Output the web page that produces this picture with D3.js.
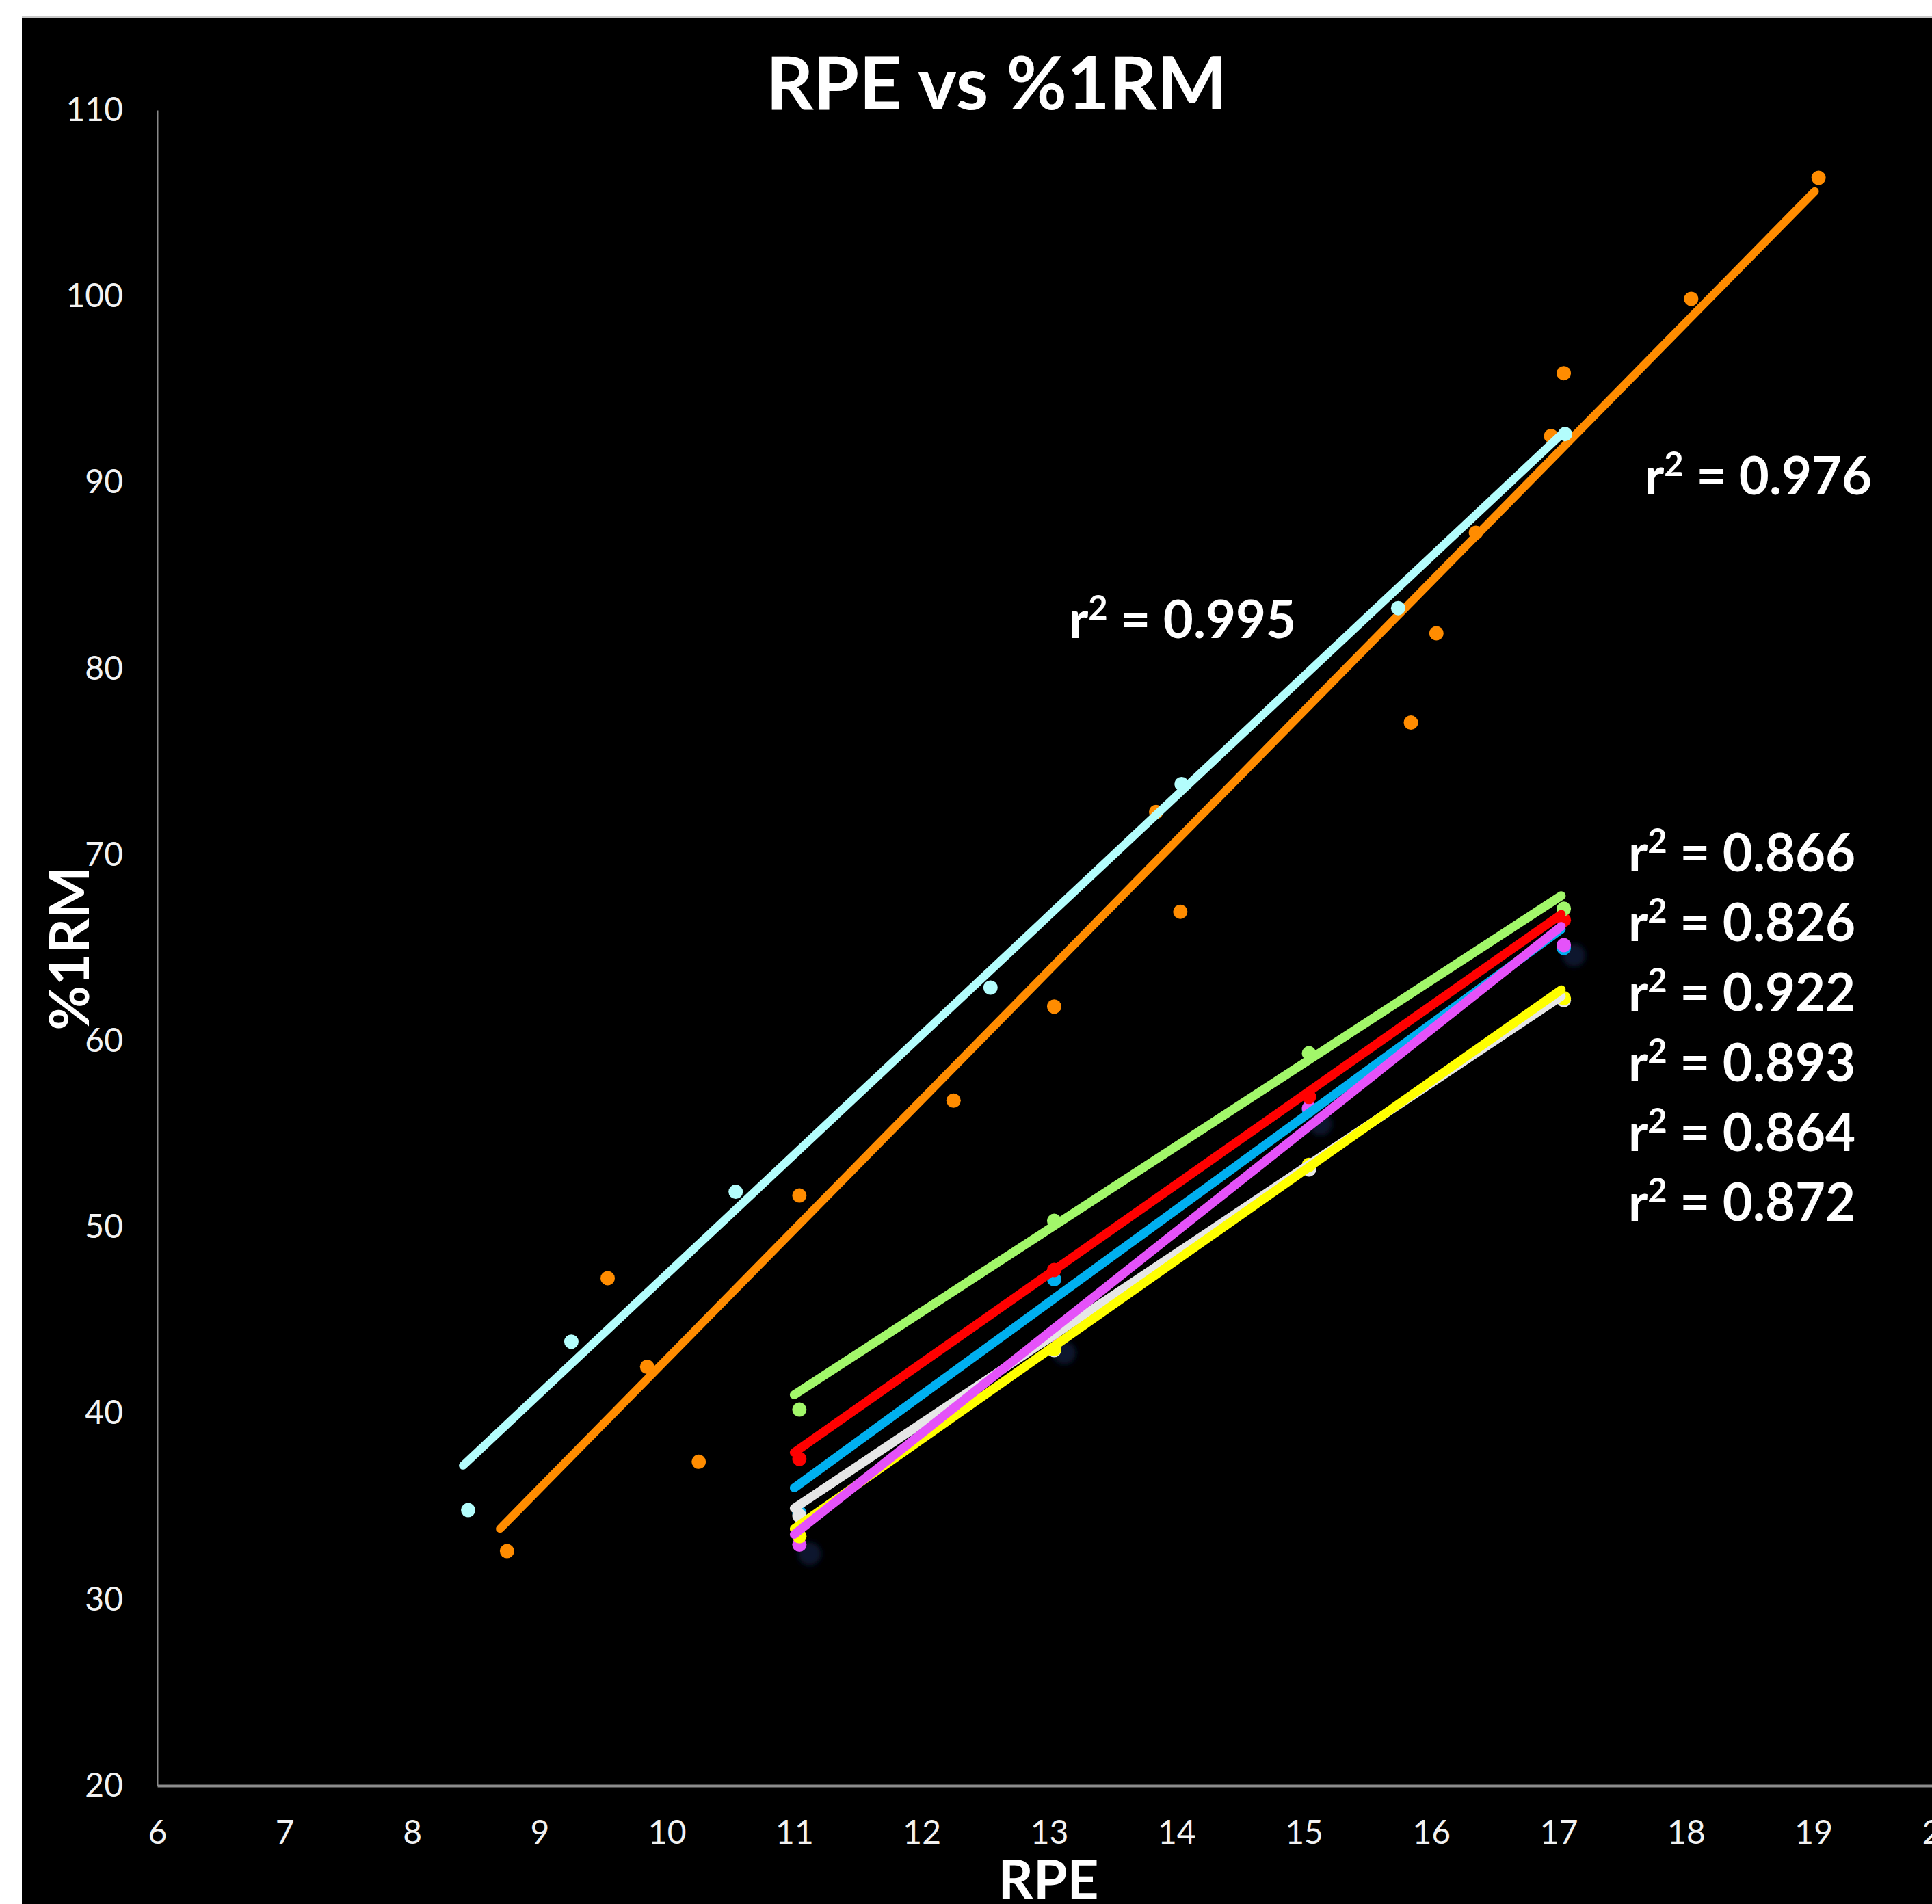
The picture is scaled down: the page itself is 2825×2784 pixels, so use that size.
<!DOCTYPE html>
<html>
<head>
<meta charset="utf-8">
<script src="https://cdn.jsdelivr.net/npm/d3@7"></script>
<style>
  html, body { margin: 0; padding: 0; background: #ffffff; }
  svg { display: block; }
</style>
</head>
<body>
<script>
// ---------------- DATA ----------------
const xTicks = [6, 7, 8, 9, 10, 11, 12, 13, 14, 15, 16, 17, 18, 19, 20];
const yTicks = [20, 30, 40, 50, 60, 70, 80, 90, 100, 110];

// Upper series (cyan, r2 = 0.995)
const cyanX = [8.44, 9.25, 10.54, 12.54, 14.04, 15.74, 17.05];
const cyanY = [34.8, 43.85, 51.9, 62.87, 73.8, 83.25, 92.6];
const cyanTrendX = [8.40, 17.04];
const cyanTrendY = [37.2, 92.7];

// Upper series (orange, r2 = 0.976)
const orangeX = [8.745, 9.535, 9.845, 10.25, 11.04, 12.25, 13.04, 13.84, 14.03, 15.84, 16.04, 16.35, 16.94, 17.04, 18.04, 19.04];
const orangeY = [32.6, 47.26, 42.5, 37.4, 51.7, 56.8, 61.85, 72.3, 66.94, 77.1, 81.9, 87.3, 92.5, 95.87, 99.86, 106.36];
const orangeTrendX = [8.69, 19.01];
const orangeTrendY = [33.8, 105.64];

// Lower group (measured at RPE 11, 13, 15, 17)
const groupX = [11.04, 13.04, 15.04, 17.04];
const groupTrendX = [11.0, 17.02];
const greenY   = [40.2, 50.34, 59.34, 67.1];
const redY     = [37.55, 47.7, 57.0, 66.5];
const blueY    = [34.65, 47.2, 56.3, 65.0];
const whiteY   = [34.5, 43.4, 53.1, 62.2];
const yellowY  = [33.4, 43.45, 53.35, 62.3];
const magentaY = [32.95, 44.2, 56.4, 65.15];
const greenTrendY   = [41.0, 67.8];
const redTrendY     = [37.9, 66.8];
const blueTrendY    = [36.0, 66.0];
const whiteTrendY   = [34.9, 62.4];
const yellowTrendY  = [33.8, 62.75];
const magentaTrendY = [33.5, 66.15];
// faint dark-navy markers
const navyX = [11.12, 13.12, 15.13, 17.12];
const navyY = [32.45, 43.25, 55.55, 64.6];

// r-squared annotations
const r2Upper = ["0.995", "0.976"];
const r2Lower = ["0.866", "0.826", "0.922", "0.893", "0.864", "0.872"];

// ---------------- LAYOUT ----------------
const W = 2825, H = 2784;
const FONT = "Lato, 'Open Sans', 'DejaVu Sans', sans-serif";

const svg = d3.select("body").append("svg")
  .attr("width", W).attr("height", H)
  .attr("viewBox", `0 0 ${W} ${H}`);

// background
svg.append("rect").attr("x", 0).attr("y", 0).attr("width", W).attr("height", H).attr("fill", "#ffffff");
svg.append("rect").attr("x", 32).attr("y", 26).attr("width", W - 32).attr("height", H - 26).attr("fill", "#000000");
svg.append("line").attr("x1", 32).attr("x2", W).attr("y1", 25.5).attr("y2", 25.5)
  .attr("stroke", "#c8c8c8").attr("stroke-width", 3);

const defs = svg.append("defs");
defs.append("filter").attr("id", "blur").attr("x", "-50%").attr("y", "-50%").attr("width", "200%").attr("height", "200%")
  .append("feGaussianBlur").attr("stdDeviation", 4);

const x = d3.scaleLinear().domain([6, 20]).range([230, 2838]);
const y = d3.scaleLinear().domain([20, 110]).range([2611, 161]);

// axes
const yAxis = svg.append("g").attr("transform", `translate(${x(6)},0)`)
  .call(d3.axisLeft(y).tickValues(yTicks).tickSize(0).tickPadding(50));
yAxis.select(".domain").attr("stroke", "#8a8a8a").attr("stroke-width", 2);
yAxis.selectAll("text").attr("fill", "#f2f2f2").attr("font-family", FONT).attr("font-size", 48);

const xAxis = svg.append("g").attr("transform", `translate(0,${y(20)})`)
  .call(d3.axisBottom(x).tickValues(xTicks).tickSize(0).tickPadding(51));
xAxis.select(".domain").attr("stroke", "#8c8c8c").attr("stroke-width", 4);
xAxis.selectAll("text").attr("fill", "#f2f2f2").attr("font-family", FONT).attr("font-size", 48);

// ---------------- MARKS ----------------
const R = 10.5;
function dots(xs, ys, color) {
  svg.append("g").selectAll("circle").data(xs.map((d, i) => [d, ys[i]])).join("circle")
    .attr("cx", d => x(d[0])).attr("cy", d => y(d[1])).attr("r", R).attr("fill", color);
}
function trend(xs, ys, color, w) {
  svg.append("line")
    .attr("x1", x(xs[0])).attr("y1", y(ys[0]))
    .attr("x2", x(xs[1])).attr("y2", y(ys[1]))
    .attr("stroke", color).attr("stroke-width", w).attr("stroke-linecap", "round");
}

const C = {
  cyan: "#b3fdfc", orange: "#ff8c00", green: "#a2f76a", red: "#ff0000",
  blue: "#00b0f0", white: "#e6e6e6", yellow: "#ffff00", magenta: "#e552f9", navy: "#07142f"
};

// navy faint markers
svg.append("g").selectAll("circle").data(navyX.map((d, i) => [d, navyY[i]])).join("circle")
  .attr("cx", d => x(d[0])).attr("cy", d => y(d[1])).attr("r", 17)
  .attr("fill", C.navy).attr("filter", "url(#blur)");

// upper series
dots(orangeX, orangeY, C.orange);
trend(orangeTrendX, orangeTrendY, C.orange, 12);
dots(cyanX, cyanY, C.cyan);
trend(cyanTrendX, cyanTrendY, C.cyan, 12);

// lower group markers
dots(groupX, blueY, C.blue);
dots(groupX, magentaY, C.magenta);
dots(groupX, whiteY, C.white);
dots(groupX, yellowY, C.yellow);
dots(groupX, redY, C.red);
dots(groupX, greenY, C.green);

// lower group trendlines
trend(groupTrendX, greenTrendY, C.green, 13);
trend(groupTrendX, redTrendY, C.red, 13);
trend(groupTrendX, blueTrendY, C.blue, 13);
trend(groupTrendX, whiteTrendY, C.white, 13);
trend(groupTrendX, yellowTrendY, C.yellow, 13);
trend(groupTrendX, magentaTrendY, C.magenta, 13);

// ---------------- TEXT ----------------
svg.append("text").attr("x", 1457).attr("y", 160).attr("text-anchor", "middle")
  .attr("font-family", FONT).attr("font-weight", "bold").attr("font-size", 108)
  .attr("fill", "#ffffff").text("RPE vs %1RM");

svg.append("text").attr("x", 1533).attr("y", 2777).attr("text-anchor", "middle")
  .attr("font-family", FONT).attr("font-weight", "bold").attr("font-size", 80)
  .attr("fill", "#ffffff").text("RPE");

svg.append("text").attr("transform", "translate(130,1387) rotate(-90)").attr("text-anchor", "middle")
  .attr("font-family", FONT).attr("font-weight", "bold").attr("font-size", 80)
  .attr("fill", "#ffffff").text("%1RM");

function r2Label(px, py, val) {
  const t = svg.append("text").attr("x", px).attr("y", py)
    .attr("font-family", FONT).attr("font-weight", "bold").attr("font-size", 76)
    .attr("fill", "#ffffff");
  t.append("tspan").text("r");
  t.append("tspan").attr("font-size", 49).attr("dy", -27).text("2");
  t.append("tspan").attr("dy", 27).text(" = " + val);
}
const upperPos = [[1563, 933], [2405, 723]];
r2Upper.forEach((v, i) => r2Label(upperPos[i][0], upperPos[i][1], v));
r2Lower.forEach((v, i) => r2Label(2381, 1274 + i * 102.2, v));
</script>
</body>
</html>
